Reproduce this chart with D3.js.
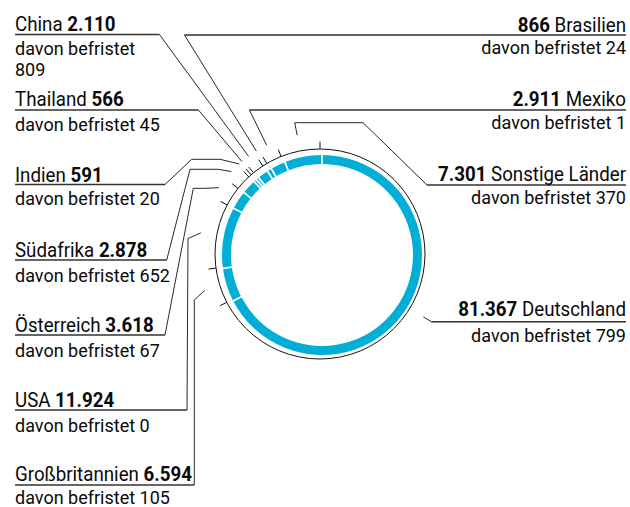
<!DOCTYPE html>
<html lang="de">
<head>
<meta charset="utf-8">
<script src="https://cdn.jsdelivr.net/npm/d3@7"></script>
<style>
  html, body { margin: 0; padding: 0; background: #fff; }
  svg { display: block; font-family: Roboto, "Noto Sans", sans-serif; }
</style>
</head>
<body>
<svg id="chart" width="630" height="507"></svg>
<script>
// Beschäftigte nach Ländern (gesamt und davon befristet), im Uhrzeigersinn ab 12 Uhr
const countries = ["Deutschland", "Großbritannien", "USA", "Österreich", "Südafrika",
                   "Indien", "Thailand", "China", "Brasilien", "Mexiko", "Sonstige Länder"];
const totals    = [81367, 6594, 11924, 3618, 2878, 591, 566, 2110, 866, 2911, 7301];
const befristet = [799, 105, 0, 67, 652, 20, 45, 809, 24, 1, 370];

// Platzierung der Beschriftungen und Knickpunkte der Führungslinien
const labelLayout = {
  "China":           { side: "left",  y1: 31,    ul: 34.5,  sub: [55, 76], knee: 34.5,  via: [] },
  "Thailand":        { side: "left",  y1: 106,   ul: 110,   sub: [131],    knee: 110,   via: [] },
  "Indien":          { side: "left",  y1: 181.5, ul: 184.5, sub: [205],    knee: null,  via: [[220, 159.3], [191.7, 159.3], [165, 184.5]] },
  "Südafrika":       { side: "left",  y1: 256.5, ul: 260,   sub: [281.5],  knee: null,  via: [[218.3, 169.3], [190, 169.3], [166.7, 260]] },
  "Österreich":      { side: "left",  y1: 331.5, ul: 335,   sub: [356.5],  knee: null,  via: [[205, 188.3], [193.3, 188.3], [165, 335]] },
  "USA":             { side: "left",  y1: 406.5, ul: 410,   sub: [431.5],  knee: null,  via: [[188, 238.5], [187, 410]] },
  "Großbritannien":  { side: "left",  y1: 481,   ul: 485,   sub: [503.5],  knee: null,  via: [[194.3, 300], [194.3, 485]] },
  "Brasilien":       { side: "right", y1: 31.5,  ul: 35,    sub: [53.5],   knee: 35,    via: [] },
  "Mexiko":          { side: "right", y1: 106,   ul: 110,   sub: [128.5],  knee: 110,   via: [] },
  "Sonstige Länder": { side: "right", y1: 180.5, ul: 185,   sub: [203.5],  knee: 122.7, via: [[363, 122.7], [427, 185]] },
  "Deutschland":     { side: "right", y1: 316,   ul: 321.7, sub: [341.5],  knee: 321.7, via: [] }
};

const de = d3.formatLocale({ decimal: ",", thousands: ".", grouping: [3], currency: ["", " €"] });
const fmt = de.format(",d");

const svg = d3.select("#chart");
const ringC = { x: 322, y: 255 };     // Mittelpunkt des farbigen Rings
const outC  = { x: 320, y: 254 };     // Mittelpunkt der Kontur, Markierungen und Linien
const outlineR = 105;
const leftX = 15, rightX = 626;
const headScale = 0.96;               // leicht schmalere Kopfzeile

const pie = d3.pie().sort(null).value(d => d)(totals);
const arc = d3.arc().innerRadius(91).outerRadius(100).padAngle(0.013);

const polar = (a, r) => [outC.x + r * Math.sin(a), outC.y - r * Math.cos(a)];

// farbiger Ring
svg.append("g")
  .attr("transform", `translate(${ringC.x},${ringC.y})`)
  .selectAll("path")
  .data(pie)
  .join("path")
  .attr("d", arc)
  .attr("fill", "#00aed6");

// dünne Kontur
svg.append("circle")
  .attr("cx", outC.x).attr("cy", outC.y).attr("r", outlineR)
  .attr("fill", "none").attr("stroke", "#111").attr("stroke-width", 1);

// Markierungen an den Segmentgrenzen
svg.append("g").selectAll("line")
  .data(pie)
  .join("line")
  .each(function (d) {
    const p0 = polar(d.startAngle, outlineR), p1 = polar(d.startAngle, outlineR + 7.5);
    d3.select(this).attr("x1", p0[0]).attr("y1", p0[1]).attr("x2", p1[0]).attr("y2", p1[1]);
  })
  .attr("stroke", "#111").attr("stroke-width", 1);

// Führungslinien und Beschriftungen
const line = d3.line();
const labels = svg.append("g");

pie.forEach((d, i) => {
  const name = countries[i];
  const L = labelLayout[name];
  const mid = (d.startAngle + d.endAngle) / 2;
  const pts = [polar(mid, 121)];
  if (L.knee !== null) {
    const r = (outC.y - L.knee) / Math.cos(mid);
    pts.push(polar(mid, r));
  }
  L.via.forEach(p => pts.push(p));
  const last = pts[pts.length - 1];

  labels.append("path")
    .attr("d", line(pts))
    .attr("fill", "none").attr("stroke", "#111").attr("stroke-width", 0.9);

  const endX = L.side === "left" ? leftX : rightX;
  labels.append("line")
    .attr("x1", last[0]).attr("y1", L.ul).attr("x2", endX).attr("y2", L.ul)
    .attr("stroke", "#333").attr("stroke-width", 1.4);

  const t = labels.append("text")
    .attr("transform", `translate(${endX},${L.y1}) scale(${headScale},1)`)
    .attr("text-anchor", L.side === "left" ? "start" : "end")
    .attr("font-size", 19.5).attr("fill", "#0a0a0a");
  if (L.side === "left") {
    t.append("tspan").text(name + " ");
    t.append("tspan").attr("font-weight", 700).text(fmt(totals[i]));
  } else {
    t.append("tspan").attr("font-weight", 700).text(fmt(totals[i]));
    t.append("tspan").text(" " + name);
  }

  const subText = L.sub.length > 1
    ? ["davon befristet", fmt(befristet[i])]
    : ["davon befristet " + fmt(befristet[i])];
  subText.forEach((s, k) => {
    labels.append("text")
      .attr("x", endX).attr("y", L.sub[k])
      .attr("text-anchor", L.side === "left" ? "start" : "end")
      .attr("font-size", 18).attr("fill", "#0a0a0a")
      .text(s);
  });
});
</script>
</body>
</html>
